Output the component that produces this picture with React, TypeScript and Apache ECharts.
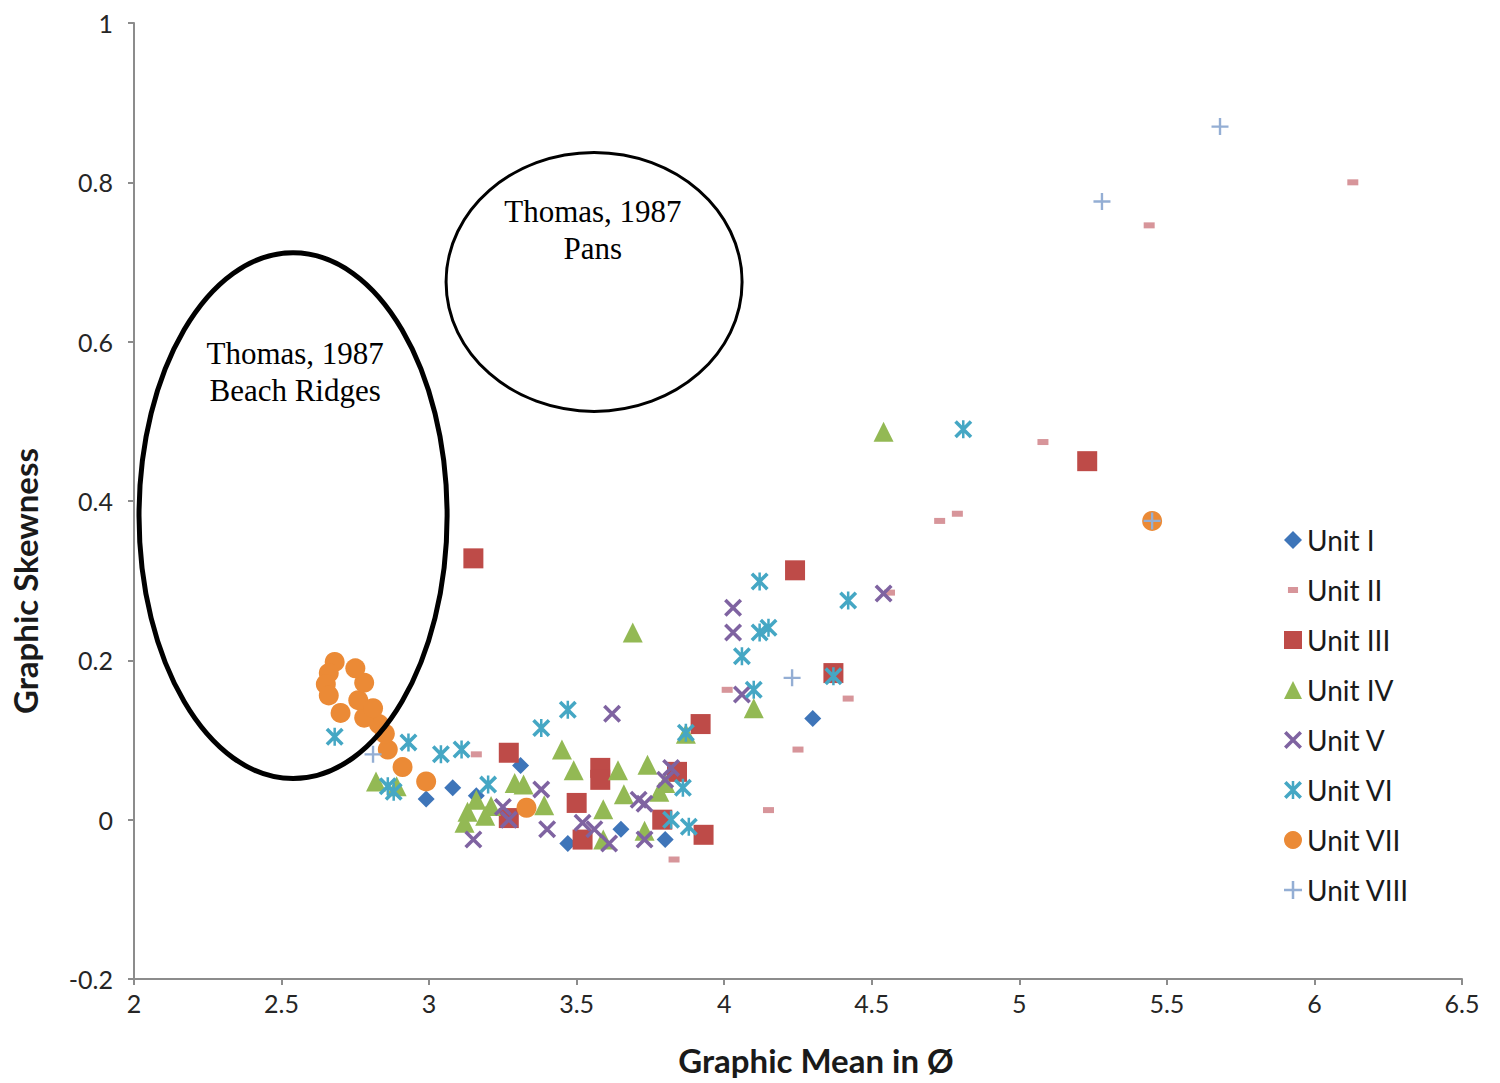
import React, { useEffect, useRef } from "react";
import * as echarts from "echarts";

// ---- Data (Graphic Mean in Ø, Graphic Skewness) ----
const seriesNames = ["Unit I", "Unit II", "Unit III", "Unit IV", "Unit V", "Unit VI", "Unit VII", "Unit VIII"];

const unitI: number[][] = [
  [2.99, 0.026], [3.08, 0.04], [3.16, 0.03], [3.31, 0.068], [3.47, -0.03],
  [3.65, -0.012], [3.80, -0.025], [4.30, 0.127],
];
const unitII: number[][] = [
  [6.13, 0.80], [5.44, 0.746], [5.08, 0.474], [4.79, 0.384], [4.73, 0.375],
  [4.56, 0.285], [4.42, 0.152], [4.25, 0.088], [4.15, 0.012], [4.01, 0.163],
  [3.83, -0.05], [3.16, 0.082],
];
const unitIII: number[][] = [
  [3.15, 0.328], [5.23, 0.45], [4.24, 0.313], [4.37, 0.184], [3.92, 0.12],
  [3.27, 0.084], [3.58, 0.065], [3.58, 0.05], [3.50, 0.021], [3.52, -0.025],
  [3.27, 0.002], [3.84, 0.06], [3.79, 0.0], [3.93, -0.019],
];
const unitIV: number[][] = [
  [4.54, 0.487], [3.69, 0.235], [4.10, 0.14], [3.87, 0.108], [2.82, 0.048],
  [2.89, 0.042], [3.45, 0.088], [3.49, 0.062], [3.29, 0.046], [3.32, 0.044],
  [3.21, 0.017], [3.13, 0.01], [3.12, -0.004], [3.16, 0.025], [3.19, 0.005],
  [3.39, 0.018], [3.59, 0.013], [3.59, -0.025], [3.64, 0.062], [3.74, 0.069],
  [3.66, 0.032], [3.78, 0.035], [3.80, 0.046], [3.73, -0.014],
];
const unitV: number[][] = [
  [4.54, 0.284], [4.03, 0.266], [4.03, 0.235], [4.06, 0.157], [3.62, 0.133],
  [3.82, 0.065], [3.71, 0.025], [3.73, 0.02], [3.61, -0.03], [3.73, -0.025],
  [3.38, 0.038], [3.40, -0.012], [3.52, -0.004], [3.56, -0.012], [3.25, 0.016],
  [3.27, 0.0], [3.15, -0.025], [3.80, 0.05],
];
const unitVI: number[][] = [
  [4.81, 0.49], [4.12, 0.299], [4.42, 0.275], [4.12, 0.235], [4.15, 0.241],
  [4.06, 0.205], [4.10, 0.163], [4.37, 0.18], [3.87, 0.109], [3.86, 0.04],
  [3.82, 0.0], [3.88, -0.009], [3.47, 0.138], [3.38, 0.115], [3.11, 0.088],
  [3.04, 0.082], [2.93, 0.097], [3.20, 0.044], [2.68, 0.104], [2.86, 0.042],
  [2.88, 0.035],
];
const unitVII: number[][] = [
  [5.45, 0.375], [3.33, 0.015], [2.99, 0.048], [2.91, 0.066], [2.86, 0.088],
  [2.85, 0.108], [2.83, 0.12], [2.78, 0.128], [2.70, 0.134], [2.76, 0.15],
  [2.78, 0.172], [2.75, 0.19], [2.68, 0.198], [2.66, 0.184], [2.65, 0.17],
  [2.66, 0.156], [2.81, 0.14],
];
const unitVIII: number[][] = [
  [5.68, 0.87], [5.28, 0.776], [4.23, 0.178], [5.45, 0.375], [2.81, 0.082],
];

const seriesData = [unitI, unitII, unitIII, unitIV, unitV, unitVI, unitVII, unitVIII];

const xTicks = { min: 2, max: 6.5, interval: 0.5 };
const yTicks = { min: -0.2, max: 1, interval: 0.2 };

const xTitle = "Graphic Mean in Ø";
const yTitle = "Graphic Skewness";

// Annotation ellipses (in data units): center x, center y, radius x, radius y
const ellipseRidges = { cx: 2.539, cy: 0.3816, rx: 0.522, ry: 0.330, label: "Thomas, 1987\nBeach Ridges", lx: 2.546, ly: 0.5623, width: 5 };
const ellipsePans = { cx: 3.559, cy: 0.675, rx: 0.5015, ry: 0.1625, label: "Thomas, 1987\nPans", lx: 3.555, ly: 0.7406, width: 3 };

// ---- Styles ----
const colors = ["#3E75B9", "#D7959A", "#BE4B48", "#93B954", "#7F63A1", "#45A7C4", "#EB8A36", "#94AED4"];

const X_PATH = "path://M0,1.4L1.4,0L10,8.6L8.6,10Z M8.6,0L10,1.4L1.4,10L0,8.6Z";
const AST_PATH = "path://M0,1.4L1.4,0L10,8.6L8.6,10Z M8.6,0L10,1.4L1.4,10L0,8.6Z M4.3,0L5.7,0L5.7,10L4.3,10Z";
const PLUS_PATH = "path://M4.3,0L5.7,0L5.7,10L4.3,10Z M0,4.3L10,4.3L10,5.7L0,5.7Z";
const DASH_ICON = "path://M0,0h0.05v0.05h-0.05Z M9.95,9.95h0.05v0.05h-0.05Z M2.2,3.3h5.6v3.4h-5.6Z";

const symbols = ["diamond", "rect", "rect", "triangle", X_PATH, AST_PATH, "circle", PLUS_PATH];
const symbolSizes: any[] = [17, [11, 6], 20, 20, 18, 18, 20, 17];
const legendIcons = ["diamond", DASH_ICON, "rect", "triangle", X_PATH, AST_PATH, "circle", PLUS_PATH];

const FONT = "Lato, 'Open Sans', sans-serif";

export default function App() {
  const ref = useRef<HTMLDivElement>(null);

  useEffect(() => {
    if (!ref.current) return;
    const chart = echarts.init(ref.current, null, { renderer: "svg" });

    const axisCommon = {
      type: "value" as const,
      splitLine: { show: false },
      axisLine: { show: true, onZero: false, lineStyle: { color: "#8c8c8c", width: 2 } },
      axisTick: { show: true, length: 6, lineStyle: { color: "#8c8c8c", width: 2 } },
    };

    const option: any = {
      animation: false,
      backgroundColor: "#ffffff",
      grid: { left: 134, right: 38, top: 23, bottom: 104 },
      xAxis: {
        ...axisCommon,
        min: xTicks.min,
        max: xTicks.max,
        interval: xTicks.interval,
        axisLabel: { fontSize: 25, color: "#262626", fontFamily: FONT, margin: 11 },
      },
      yAxis: {
        ...axisCommon,
        min: yTicks.min,
        max: yTicks.max,
        interval: yTicks.interval,
        axisLabel: { fontSize: 25, color: "#262626", fontFamily: FONT, margin: 21 },
      },
      legend: {
        orient: "vertical",
        left: 1279,
        top: 521,
        itemWidth: 18,
        itemHeight: 18,
        itemGap: 22,
        textStyle: { fontSize: 28, color: "#1a1a1a", fontFamily: FONT, lineHeight: 26 },
        data: seriesNames.map((n, i) => ({ name: n, icon: legendIcons[i] })),
      },
      series: seriesNames.map((name, i) => ({
        name,
        type: "scatter",
        data: seriesData[i],
        symbol: symbols[i],
        symbolSize: symbolSizes[i],
        itemStyle: { color: colors[i], opacity: 1 },
        emphasis: { disabled: true },
      })),
    };
    chart.setOption(option);

    const toPx = (p: number[]) => chart.convertToPixel({ xAxisIndex: 0, yAxisIndex: 0 }, p) as number[];
    const graphics: any[] = [];
    [ellipseRidges, ellipsePans].forEach((e) => {
      const c = toPx([e.cx, e.cy]);
      const ex = toPx([e.cx + e.rx, e.cy]);
      const ey = toPx([e.cx, e.cy + e.ry]);
      const l = toPx([e.lx, e.ly]);
      graphics.push({
        type: "ellipse",
        z: 10,
        shape: { cx: c[0], cy: c[1], rx: Math.abs(ex[0] - c[0]), ry: Math.abs(c[1] - ey[1]) },
        style: { fill: "none", stroke: "#000000", lineWidth: e.width },
        silent: true,
      });
      graphics.push({
        type: "text",
        z: 10,
        x: l[0],
        y: l[1],
        style: {
          text: e.label,
          fontSize: 31,
          fontFamily: "'Liberation Serif', 'Times New Roman', serif",
          fill: "#000000",
          align: "center",
          verticalAlign: "middle",
          lineHeight: 37,
        },
        silent: true,
      });
    });

    graphics.push({
      type: "text",
      x: 816,
      y: 1060,
      style: { text: xTitle, fontSize: 33, fontWeight: "bold", fontFamily: FONT, fill: "#1a1a1a", align: "center", verticalAlign: "middle" },
    });
    graphics.push({
      type: "text",
      x: 25,
      y: 581,
      rotation: Math.PI / 2,
      style: { text: yTitle, fontSize: 33, fontWeight: "bold", fontFamily: FONT, fill: "#1a1a1a", align: "center", verticalAlign: "middle" },
    });

    chart.setOption({ graphic: graphics });

    return () => chart.dispose();
  }, []);

  return (
    <div
      ref={ref}
      style={{ position: "fixed", left: 0, top: 0, width: 1500, height: 1083, background: "#fff" }}
    />
  );
}
